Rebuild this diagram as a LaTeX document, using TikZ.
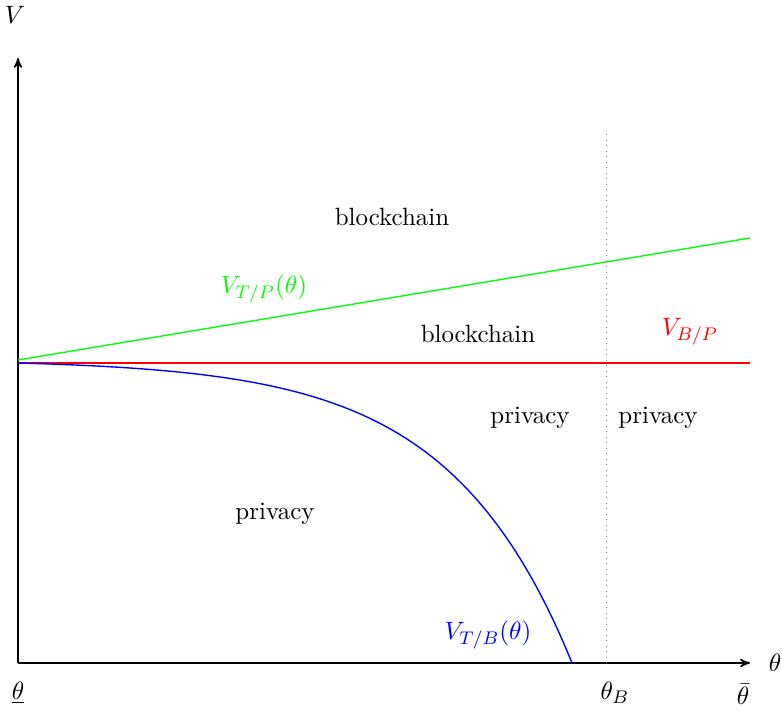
\documentclass[tikz,border=0pt]{standalone}
\usepackage{amsmath}
\usepackage{tikz}
\usetikzlibrary{positioning}
\usetikzlibrary{arrows}

\begin{document}
\begin{tikzpicture}[>=stealth',
	every node/.style={font=\fontsize{10.9}{13}\selectfont,inner sep=1pt},
	axis/.style={semithick,->},
	vtp/.style={green,semithick},
	vbp/.style={red,semithick},
	vtb/.style={blue,semithick}]
	\useasboundingbox (-0.276,-0.737) rectangle (11.723,10.173);
	
	\coordinate (O) at (0,0);
	\coordinate (xend) at (11.232,0);
	\coordinate (yend) at (0,9.283);
	\coordinate (gstart) at (0,4.649);
	\coordinate (gend) at (11.232,6.521);
	\coordinate (rstart) at (0,4.603);
	\coordinate (rend) at (11.232,4.603);
	\coordinate (tb) at (9.023,0);
	\coordinate (tbtop) at (9.023,8.133);
	
	% axes
	\draw[axis] (O) -- (xend);
	\draw[axis] (O) -- (yend);
	\node (vax) at (-0.046,9.943) {$V$};
	\node (thax) at (11.616,0) {$\theta$};
	\node (thlow) at (0,-0.46) {$\underline{\theta}$};
	\node (thB) at (9.16,-0.46) {$\theta_B$};
	\node (thbar) at (11.125,-0.48) {$\bar{\theta}$};
	
	% value curves
	\draw[vtp] (gstart) -- (gend);
	\draw[vbp] (rstart) -- (rend);
	\draw[vtb] plot[smooth,samples=120,domain=0:8.501]
	(\x,{4.603*(1-(exp(4.5*\x/8.501)-1)/(exp(4.5)-1))});
	\draw[dotted,gray] (tb) -- (tbtop);
	
	% labels
	\node[green] (lvtp) at (3.775,5.739) {$V_{T/P}(\theta)$};
	\node[red] (lvbp) at (10.311,5.079) {$V_{B/P}$};
	\node[blue] (lvtb) at (7.212,0.43) {$V_{T/B}(\theta)$};
	\node (bc1) at (5.739,6.844) {blockchain};
	\node (bc2) at (7.058,5.048) {blockchain};
	\node (pr1) at (7.856,3.759) {privacy};
	\node (pr2) at (9.820,3.759) {privacy};
	\node (pr3) at (3.944,2.286) {privacy};
\end{tikzpicture}
\end{document}
